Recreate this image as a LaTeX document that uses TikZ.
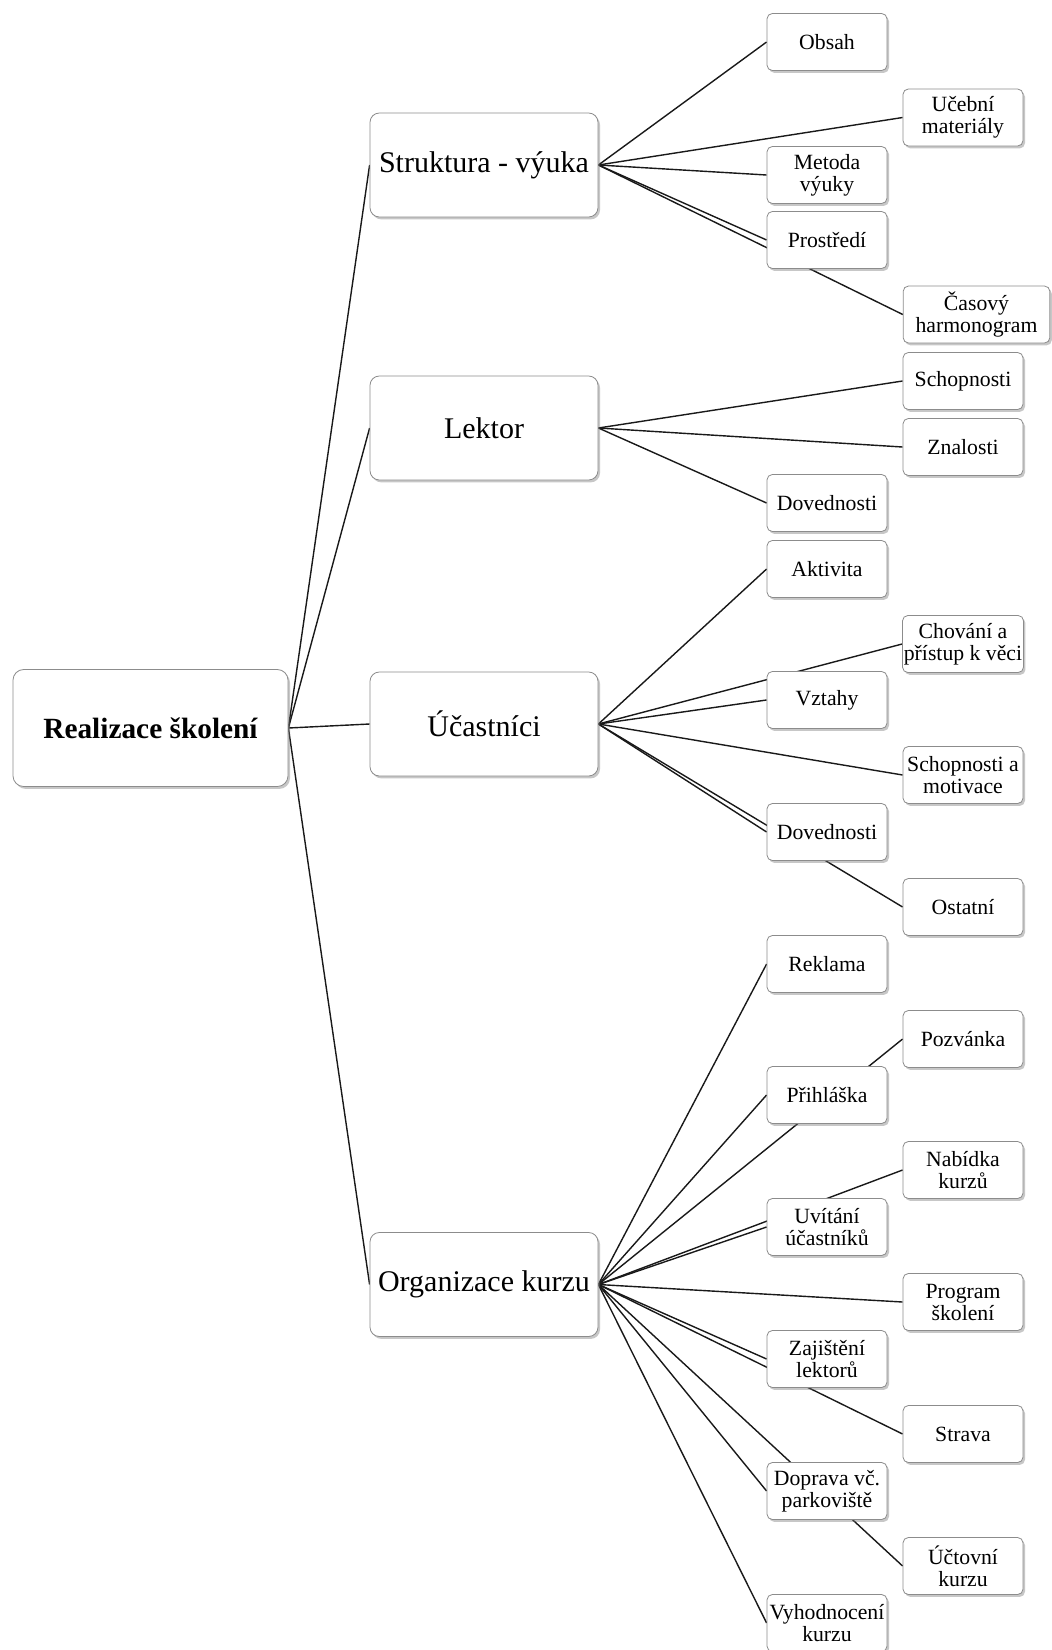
\documentclass[tikz,border=0pt]{standalone}
\usepackage{fontspec}
\setmainfont{Liberation Serif}
\usetikzlibrary{shadows,backgrounds}

\tikzset{
  card/.style={draw=black!45, line width=0.6pt, fill=white, align=center, inner sep=1pt,
    drop shadow={shadow xshift=1.5pt, shadow yshift=-1.8pt, opacity=0.4, fill=black!55}},
  rootbox/.style={card, rounded corners=8pt, minimum width=206.25pt, minimum height=87.75pt,
    font=\bfseries\fontsize{22}{24}\selectfont},
  topicbox/.style={card, rounded corners=7pt, minimum width=171pt, minimum height=78pt,
    font=\fontsize{22.5}{24}\selectfont},
  itembox/.style={card, rounded corners=4pt, minimum width=90pt, minimum height=42.75pt,
    font=\fontsize{16.3}{16.5}\selectfont},
  widebox/.style={itembox, minimum width=110pt},
  link/.style={draw=black!90, line width=1.05pt}
}

\begin{document}
\begin{tikzpicture}[x=0.75pt, y=-0.75pt]
\useasboundingbox (0,0) rectangle (1051,1650);

% root and main topics
\node[rootbox]  (root)   at (150.5,728)  {Realizace školení};
\node[topicbox] (struk)  at (484,165)    {Struktura - výuka};
\node[topicbox] (lektor) at (484,428)    {Lektor};
\node[topicbox] (ucast)  at (484,724)    {Účastníci};
\node[topicbox] (org)    at (484,1284.5) {Organizace kurzu};

% Struktura - výuka
\node[itembox] (obsah)     at (827,42)    {Obsah};
\node[itembox] (ucebni)    at (963,117.5) {Učební\\materiály};
\node[itembox] (metoda)    at (827,175)   {Metoda\\výuky};
\node[itembox] (prostredi) at (827,240)   {Prostředí};
\node[widebox] (casovy)    at (976.5,314.5) {Časový\\harmonogram};

% Lektor
\node[itembox] (schop)     at (963,381)   {Schopnosti};
\node[itembox] (znal)      at (963,447)   {Znalosti};
\node[itembox] (dovL)      at (827,503)   {Dovednosti};

% Účastníci
\node[itembox] (aktiv)     at (827,569)   {Aktivita};
\node[itembox] (chovani)   at (963,644)   {Chování a\\přístup k věci};
\node[itembox] (vztahy)    at (827,700)   {Vztahy};
\node[itembox] (motiv)     at (963,775)   {Schopnosti a\\motivace};
\node[itembox] (dovU)      at (827,832)   {Dovednosti};
\node[itembox] (ostatni)   at (963,907)   {Ostatní};

% Organizace kurzu
\node[itembox] (reklama)   at (827,964)   {Reklama};
\node[itembox] (pozvanka)  at (963,1039)  {Pozvánka};
\node[itembox] (prihlaska) at (827,1095)  {Přihláška};
\node[itembox] (nabidka)   at (963,1170)  {Nabídka\\kurzů};
\node[itembox] (uvitani)   at (827,1227)  {Uvítání\\účastníků};
\node[itembox] (program)   at (963,1302)  {Program\\školení};
\node[itembox] (zajisteni) at (827,1359)  {Zajištění\\lektorů};
\node[itembox] (strava)    at (963,1434)  {Strava};
\node[itembox] (doprava)   at (827,1491)  {Doprava vč.\\parkoviště};
\node[itembox] (uctovni)   at (963,1566)  {Účtovní\\kurzu};
\node[itembox] (vyhod)     at (827,1623)  {Vyhodnocení\\kurzu};

% connectors run behind the boxes
\begin{scope}[on background layer]
  \fill[white] (0,0) rectangle (1051,1650);
  \foreach \t in {struk,lektor,ucast,org}
    \draw[link] (root.east) -- (\t.west);
  \foreach \t in {obsah,ucebni,metoda,prostredi,casovy}
    \draw[link] (struk.east) -- (\t.west);
  \foreach \t in {schop,znal,dovL}
    \draw[link] (lektor.east) -- (\t.west);
  \foreach \t in {aktiv,chovani,vztahy,motiv,dovU,ostatni}
    \draw[link] (ucast.east) -- (\t.west);
  \foreach \t in {reklama,pozvanka,prihlaska,nabidka,uvitani,program,zajisteni,strava,doprava,uctovni,vyhod}
    \draw[link] (org.east) -- (\t.west);
\end{scope}
\end{tikzpicture}
\end{document}
